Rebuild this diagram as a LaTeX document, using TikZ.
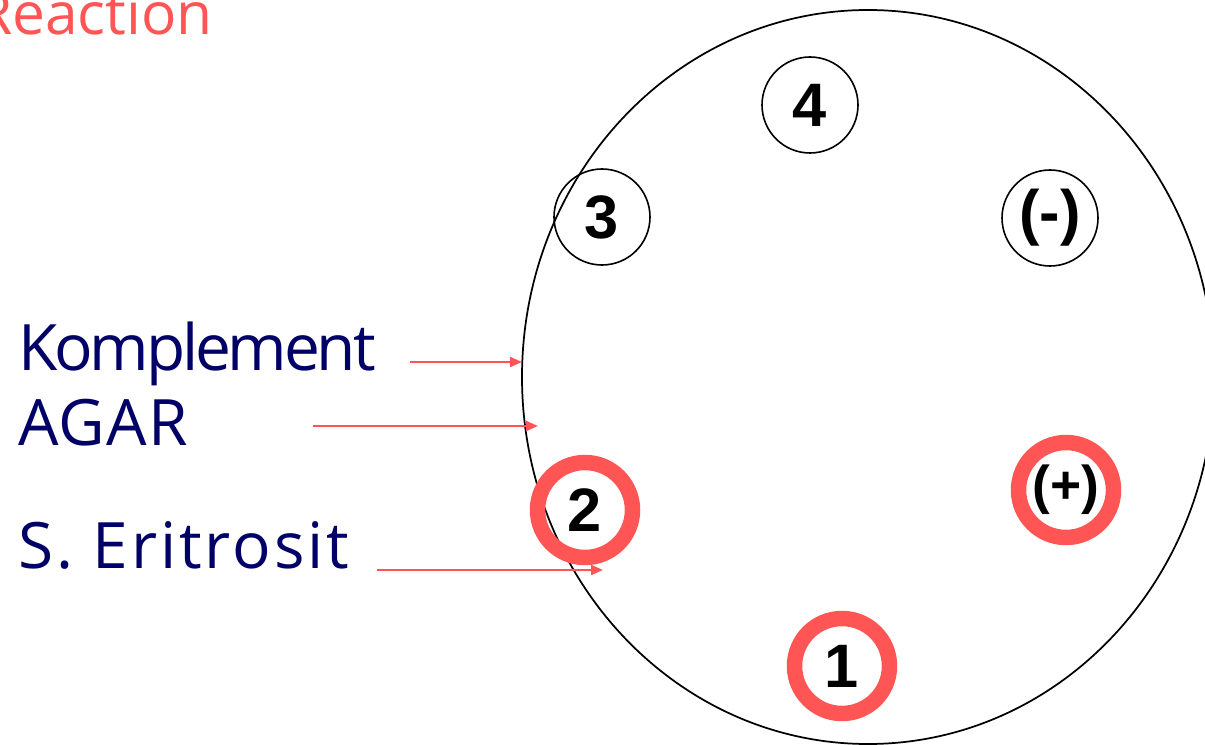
\documentclass[tikz,border=0pt]{standalone}
\usepackage{fontspec}
\setmainfont{Open Sans}
\newfontfamily\wellfont{Liberation Sans}
\usetikzlibrary{arrows.meta}

\definecolor{hitred}{RGB}{255,85,85}
\definecolor{tagblue}{RGB}{0,0,102}

\tikzset{
  well/.style={circle, draw=black, line width=1.2pt, minimum size=72pt, inner sep=0pt,
    font=\wellfont\bfseries\fontsize{46}{46}\selectfont},
  hitwell/.style={well, draw=hitred, line width=11.6pt, minimum size=71.25pt},
  tag/.style={text=tagblue, anchor=base west, inner sep=0pt,
    font=\fontsize{48}{48}\selectfont},
  pointer/.style={draw=hitred, line width=1.6pt, -{Triangle[length=9pt,width=7.5pt]}}
}

\begin{document}
\begin{tikzpicture}[x=0.75pt, y=-0.75pt]
\useasboundingbox (0,0) rectangle (1205,745);
% agar plate
\draw [line width=1.3pt] (868,377) ellipse [x radius=346, y radius=367];
% wells without lysis
\node[well] (well4) at (810,105) {4};
\node[well] (well3) at (602,217) {3};
\node[well] (neg) at (1050,218) {(-)};
% wells with lysis
\node[hitwell] (well2) at (585,510) {2};
\node[hitwell] (well1) at (842,666) {1};
\node[hitwell, font=\wellfont\bfseries\fontsize{40}{40}\selectfont] (pos) at (1066,490) {(+)};
% title
\node[text=hitred, anchor=base east, inner sep=0pt, font=\fontsize{44}{44}\selectfont] (reaction) at (213,35) {Reaction};
% layers
\node[tag] (komplement) at (18,370) {\addfontfeatures{LetterSpace=-5}Komplement};
\node[tag] (agar) at (18,445) {\addfontfeatures{LetterSpace=2}AGAR};
\node[tag] (eritrosit) at (18,568) {\addfontfeatures{LetterSpace=4.5}S. Eritrosit};
\coordinate (komplement-from) at (410,362);
\coordinate (komplement-to) at (522,362);
\coordinate (agar-from) at (313,426);
\coordinate (agar-to) at (538,426);
\coordinate (eritrosit-from) at (377,570);
\coordinate (eritrosit-to) at (603,570);
\draw [pointer] (komplement-from) -- (komplement-to);
\draw [pointer] (agar-from) -- (agar-to);
\draw [pointer] (eritrosit-from) -- (eritrosit-to);
\end{tikzpicture}
\end{document}
